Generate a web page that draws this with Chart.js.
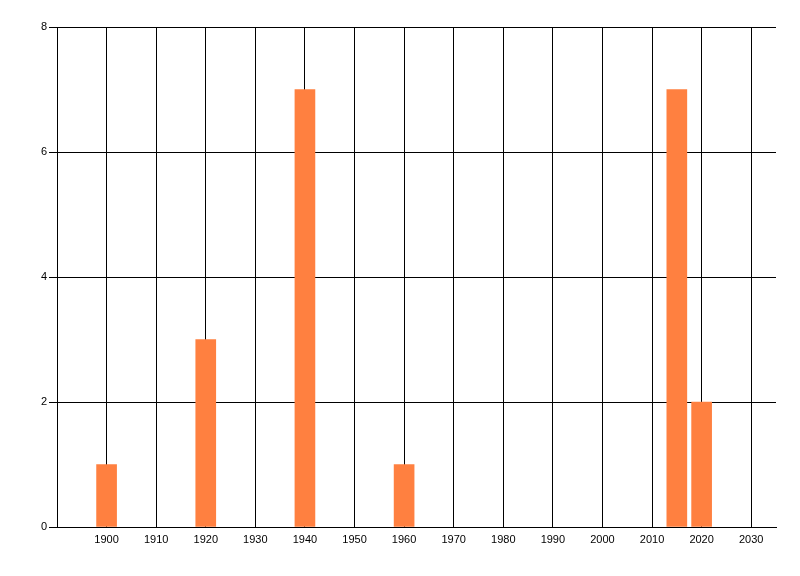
<!DOCTYPE html>
<html>
<head>
<meta charset="utf-8">
<script src="https://cdn.jsdelivr.net/npm/chart.js@4.4.1/dist/chart.umd.min.js"></script>
<style>
html, body { margin: 0; padding: 0; background: #fff; }
canvas { display: block; }
</style>
</head>
<body>
<canvas id="myChart" width="800" height="576"></canvas>
<script>
// datos del gráfico
const anios = [1900, 1920, 1940, 1960, 2015, 2020];
const valores = [1, 3, 7, 1, 7, 2];
const ticksX = [1900, 1910, 1920, 1930, 1940, 1950, 1960, 1970, 1980, 1990, 2000, 2010, 2020, 2030];
const ticksY = [0, 2, 4, 6, 8];

const fuente = { family: "'Liberation Sans', Arial, sans-serif", size: 11 };

const ctx = document.getElementById('myChart').getContext('2d');

const chart = new Chart(ctx, {
    type: 'bar',
    data: {
        datasets: [{
            data: anios.map((a, i) => ({ x: a, y: valores[i] })),
            backgroundColor: '#FF8040',
            borderWidth: 0,
            barThickness: 20
        }]
    },
    options: {
        responsive: false,
        animation: false,
        layout: { padding: { top: 27, right: 24, bottom: 0, left: 0 } },
        plugins: {
            legend: { display: false },
            tooltip: { enabled: false }
        },
        scales: {
            x: {
                type: 'linear',
                min: 1890,
                max: 2035,
                offset: false,
                afterBuildTicks: (s) => { s.ticks = ticksX.map(v => ({ value: v })); },
                afterFit: (s) => { s.height = 49; },
                ticks: {
                    callback: (v) => String(v),
                    font: fuente,
                    color: '#000',
                    padding: 6,
                    maxRotation: 0,
                    autoSkip: false
                },
                grid: { color: '#000', lineWidth: 1, drawTicks: false, offset: false },
                border: { color: '#000', width: 1 }
            },
            y: {
                min: 0,
                max: 8,
                afterBuildTicks: (s) => { s.ticks = ticksY.map(v => ({ value: v })); },
                afterFit: (s) => { s.width = 57; },
                ticks: {
                    font: fuente,
                    color: '#000',
                    padding: 2
                },
                grid: { color: '#000', lineWidth: 1, tickLength: 8 },
                border: { color: '#000', width: 1 }
            }
        }
    }
});
</script>
</body>
</html>
